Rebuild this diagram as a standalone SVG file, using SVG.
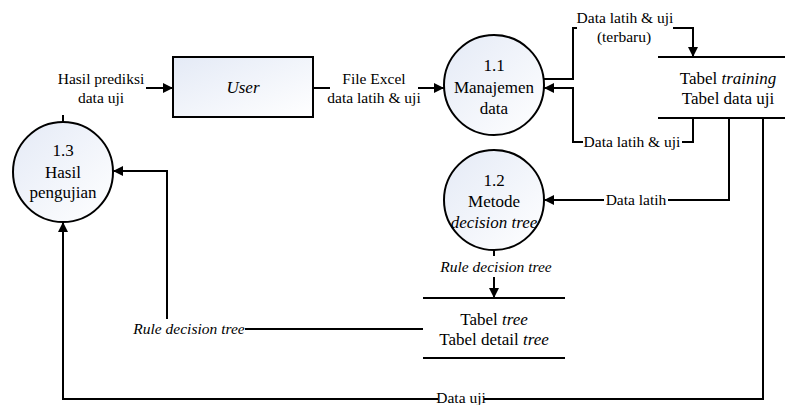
<svg xmlns="http://www.w3.org/2000/svg" width="785" height="405" viewBox="0 0 785 405">
<defs>
<linearGradient id="fillG" x1="0" y1="0" x2="1" y2="1">
<stop offset="0" stop-color="#e4eaf6"/>
<stop offset="1" stop-color="#ffffff"/>
</linearGradient>
<marker id="arr" viewBox="0 0 10 10" refX="10" refY="5" markerWidth="10" markerHeight="10" markerUnits="userSpaceOnUse" orient="auto">
<path d="M0,0 L10,5 L0,10 Z" fill="#000"/>
</marker>
<style>
.node{fill:url(#fillG);stroke:#000;stroke-width:2}
.store{stroke:#000;stroke-width:2.2;fill:none}
.c{fill:none;stroke:#000;stroke-width:2}
.a{marker-end:url(#arr)}
text{font-family:Liberation Serif, Times New Roman, Times, Tinos, DejaVu Serif, Noto Serif, serif;fill:#000;text-anchor:middle}
.nt{font-size:17px}
.lb{font-size:15.5px}
.i{font-style:italic}
</style>
</defs>
<rect width="785" height="405" fill="#fff"/>

<g id="connectors">
<line class="c" x1="63" y1="122" x2="63" y2="115"/>
<line class="c a" x1="146" y1="88" x2="173" y2="88"/>
<line class="c" x1="313" y1="88" x2="330" y2="88"/>
<line class="c a" x1="418" y1="88" x2="444" y2="88"/>
<path class="c" d="M544,79 H573 V28 H577"/>
<path class="c a" d="M673,28 H693 V57"/>
<path class="c" d="M693,118 V142 H682"/>
<path class="c a" d="M583,142 H573 V88 H544"/>
<path class="c" d="M729,118 V200 H668"/>
<path class="c a" d="M604,200 H544"/>
<line class="c" x1="494" y1="250" x2="494" y2="256"/>
<line class="c a" x1="494" y1="277" x2="494" y2="298"/>
<line class="c" x1="423" y1="329" x2="245" y2="329"/>
<path class="c a" d="M167,319 V171 H113"/>
<path class="c" d="M763,118 V399 H484"/>
<path class="c a" d="M438,399 H63 V222"/>
<text class="lb" x="101" y="84">Hasil prediksi</text>
<text class="lb" x="101" y="103">data uji</text>
<text class="lb" x="374" y="84">File Excel</text>
<text class="lb" x="374" y="103">data latih &amp; uji</text>
<text class="lb" x="625" y="23">Data latih &amp; uji</text>
<text class="lb" x="624" y="42">(terbaru)</text>
<text class="lb" x="632" y="147">Data latih &amp; uji</text>
<text class="lb" x="636" y="205">Data latih</text>
<text class="lb i" x="496" y="272">Rule decision tree</text>
<text class="lb i" x="189" y="334">Rule decision tree</text>
<text class="lb" x="461" y="403">Data uji</text>
</g>

<g id="user">
<rect class="node" x="173" y="57" width="140" height="60"/>
<text class="nt i" x="243" y="93">User</text>
</g>

<g id="p11">
<circle class="node" cx="494" cy="85" r="50"/>
<text class="nt" x="494" y="71">1.1</text>
<text class="nt" x="494" y="93">Manajemen</text>
<text class="nt" x="494" y="114">data</text>
</g>

<g id="p12">
<circle class="node" cx="494" cy="200" r="50"/>
<text class="nt" x="494" y="186">1.2</text>
<text class="nt" x="494" y="207">Metode</text>
<text class="nt i" x="494" y="228">decision tree</text>
</g>

<g id="p13">
<circle class="node" cx="63" cy="172" r="50"/>
<text class="nt" x="63" y="156">1.3</text>
<text class="nt" x="63" y="178">Hasil</text>
<text class="nt" x="63" y="198">pengujian</text>
</g>

<g id="store-training">
<line class="store" x1="658" y1="57" x2="785" y2="57"/>
<line class="store" x1="658" y1="118" x2="785" y2="118"/>
<text class="nt" x="728" y="84">Tabel <tspan class="i">training</tspan></text>
<text class="nt" x="728" y="104">Tabel data uji</text>
</g>

<g id="store-tree">
<line class="store" x1="423" y1="298" x2="565" y2="298"/>
<line class="store" x1="423" y1="358" x2="565" y2="358"/>
<text class="nt" x="494" y="325">Tabel <tspan class="i">tree</tspan></text>
<text class="nt" x="494" y="345">Tabel detail <tspan class="i">tree</tspan></text>
</g>
</svg>
